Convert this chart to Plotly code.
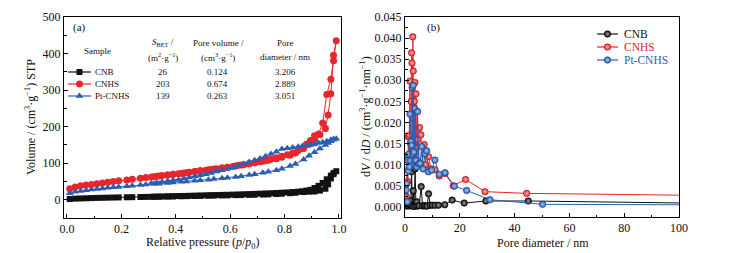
import plotly.graph_objects as go

# ---------------- data: (a) N2 isotherms ----------------
p_ads = [0.01, 0.03, 0.05, 0.07, 0.09, 0.11, 0.13, 0.15, 0.17, 0.19, 0.22, 0.24, 0.27, 0.29, 0.32,
         0.34, 0.37, 0.39, 0.42, 0.44, 0.47, 0.49, 0.52, 0.54, 0.57, 0.59, 0.62, 0.64, 0.67, 0.69,
         0.72, 0.74, 0.77, 0.79, 0.82, 0.84, 0.87, 0.89, 0.91, 0.93, 0.95, 0.96, 0.97, 0.98, 0.99]
p_des = [0.98, 0.97, 0.955, 0.94, 0.925, 0.91, 0.895, 0.88, 0.865, 0.85, 0.83, 0.81, 0.79, 0.77,
         0.75, 0.73, 0.71, 0.69, 0.67, 0.65, 0.63, 0.61, 0.59, 0.57, 0.55, 0.53, 0.51, 0.49, 0.47,
         0.45, 0.43, 0.41, 0.39, 0.37, 0.35, 0.33, 0.31]

cnb_ads = [2, 3, 3.5, 4, 4.5, 5, 5.3, 5.6, 6, 6.3, 6.7, 7, 7.4, 7.7, 8.1, 8.4, 8.8, 9.1, 9.5, 9.8,
           10.2, 10.5, 11, 11.3, 11.7, 12, 12.5, 12.8, 13.3, 13.6, 14.2, 14.6, 15.6, 16.5, 18, 19,
           21, 22, 22.5, 25, 30, 42, 58, 70, 78]
cnb_des = [73, 66, 56, 46, 38, 32, 27, 25, 23, 22, 21, 20, 19.2, 18.5, 17.8, 17.2, 16.6, 16, 15.5,
           15, 14.5, 14, 13.6, 13.2, 12.8, 12.4, 12, 11.6, 11.2, 10.8, 10.4, 10, 9.6, 9.2, 8.8, 8.4, 8]

cnhs_ads = [30, 35, 38, 40, 42, 44, 46, 48, 50, 52, 54, 56, 59, 61, 63, 65, 68, 70, 72, 74, 77, 79,
            82, 84, 87, 89, 92, 95, 98, 101, 105, 108, 112, 116, 122, 128, 140, 152, 165, 178, 195,
            232, 290, 395, 435]
cnhs_des = [380, 330, 288, 210, 180, 175, 162, 152, 140, 135, 128, 123, 119, 115, 111, 107, 104,
            101, 99, 96, 94, 91, 89, 87, 85, 83, 81, 79, 77, 75, 73, 71, 70, 68, 66, 64, 62]

pt_ads = [18, 22, 24, 26, 28, 29.5, 31, 32.5, 34, 35, 37, 38.5, 40, 41.5, 43, 44, 46, 47, 49, 50,
          52, 53, 55, 56.5, 58.5, 60, 62.5, 64.5, 67.5, 70, 73.5, 76.5, 81, 85, 92, 98, 110, 120,
          130, 140, 150, 155, 160, 164, 167]
pt_des = [166, 164, 160, 157, 155, 152, 150, 148, 146, 145, 143, 141, 139, 131, 125, 119, 113,
          108, 103, 98, 93, 89, 85, 81, 77, 73, 70, 67, 64, 61, 58, 55, 53, 51, 49, 47, 45]

# ---------------- data: (b) pore size distribution ----------------
d_cnb = [0.6, 1.0, 1.4, 1.8, 2.1, 2.4, 2.7, 3.0, 3.3, 3.7, 4.0, 4.3, 4.7, 5.2, 5.9, 6.4, 7.0, 7.6,
         8.1, 8.6, 9.2, 10.0, 11.0, 12.2, 14.5, 17.2, 21.6, 29.5, 45.0, 150]
v_cnb = [0.0002, 0.0005, 0.0002, 0.0015, 0.0003, 0.0083, 0.0002, 0.0038, 0.0001, 0.0090, 0.0002,
         0.0012, 0.0002, 0.0003, 0.0048, 0.0002, 0.0003, 0.0002, 0.0002, 0.0031, 0.0004, 0.0004,
         0.0004, 0.0004, 0.0005, 0.0016, 0.0009, 0.0014, 0.0014, 0.0005]

d_cnhs = [0.5, 0.8, 1.0, 1.2, 1.4, 1.6, 1.8, 2.0, 2.2, 2.4, 2.55, 2.7, 2.85, 3.0, 3.2, 3.4, 3.6,
          3.8, 4.0, 4.3, 4.6, 5.0, 5.3, 5.8, 6.3, 7.0, 7.6, 8.6, 9.5, 10.9, 12.5, 14.6, 17.6, 22.1,
          29.2, 44.4, 150]
v_cnhs = [0.0025, 0.0122, 0.0060, 0.0166, 0.0090, 0.0170, 0.0298, 0.0150, 0.0250, 0.0365, 0.0341,
          0.0210, 0.0403, 0.0322, 0.0160, 0.0250, 0.0295, 0.0140, 0.0268, 0.0110, 0.0160, 0.0100,
          0.0188, 0.0171, 0.0100, 0.0148, 0.0100, 0.0119, 0.0090, 0.0088, 0.0073, 0.0079, 0.0050,
          0.0065, 0.0036, 0.0032, 0.0024]

d_pt = [0.4, 0.6, 0.85, 1.0, 1.2, 1.4, 1.6, 1.8, 2.0, 2.2, 2.4, 2.6, 2.8, 3.0, 3.2, 3.4, 3.6, 3.8,
        4.0, 4.3, 4.6, 5.0, 5.5, 6.1, 6.6, 7.3, 7.9, 8.5, 9.7, 10.9, 12.5, 14.6, 18.0, 22.5, 31.0,
        50.2, 150]
v_pt = [0.0040, 0.0055, 0.0012, 0.0110, 0.0085, 0.0125, 0.0095, 0.0220, 0.0110, 0.0155, 0.0146,
        0.0283, 0.0125, 0.0288, 0.0130, 0.0110, 0.0233, 0.0095, 0.0110, 0.0095, 0.0226, 0.0102,
        0.0103, 0.0143, 0.0090, 0.0126, 0.0133, 0.0083, 0.0087, 0.0111, 0.0077, 0.0081, 0.0049,
        0.0039, 0.0017, 0.0006, 0.0004]

samples = ["CNB", "CNHS", "Pt-CNHS"]
s_bet = ["26", "203", "139"]
pore_vol = ["0.124", "0.674", "0.263"]
pore_dia = ["3.206", "2.889", "3.051"]

# ---------------- styles ----------------
W, H = 729, 253
ML, MR, MT, MB = 64, 50, 17, 35
FONT = "Liberation Serif"
BLACK, RED, BLUE = "#111111", "#e8262b", "#2b5fb4"
colors = [BLACK, RED, BLUE]
symbols_a = ["square", "circle", "triangle-up"]
sizes_a = [6, 7, 7]
grad = ["#9a9a9a", "#ffb4b4", "#a9c4f0"]
edge = ["#000000", "#b01010", "#1a3f80"]


def px(x):
    return (x - ML) / (W - ML - MR)


def py(y):
    return (H - MB - y) / (H - MT - MB)


fig = go.Figure()

iso = [(cnb_ads, cnb_des), (cnhs_ads, cnhs_des), (pt_ads, pt_des)]
for i, (ya, yd) in enumerate(iso):
    fig.add_trace(go.Scatter(
        x=p_ads + p_des, y=ya + yd, mode="lines+markers", name=samples[i], showlegend=False,
        line=dict(color=colors[i], width=1),
        marker=dict(symbol=symbols_a[i], size=sizes_a[i], color=colors[i], line=dict(width=0)),
        xaxis="x", yaxis="y"))

psd = [(d_cnb, v_cnb), (d_cnhs, v_cnhs), (d_pt, v_pt)]
for i, (xd, yv) in enumerate(psd):
    fig.add_trace(go.Scatter(
        x=xd, y=yv, mode="lines+markers", name=samples[i], showlegend=False,
        line=dict(color=colors[i], width=1),
        marker=dict(symbol="circle", size=6.5, color=colors[i],
                    gradient=dict(type="radial", color=grad[i]),
                    line=dict(color=edge[i], width=0.6)),
        xaxis="x2", yaxis="y2"))

# ---------------- legend keys (pixel layout on an overlay axis) ----------------
leg_a_rows = [72, 84, 96]
leg_b_rows = [34, 47, 60]
for i in range(3):
    fig.add_trace(go.Scatter(x=[68, 91], y=[leg_a_rows[i]] * 2, mode="lines",
                             line=dict(color=colors[i], width=1.2), showlegend=False,
                             hoverinfo="skip", xaxis="x3", yaxis="y3"))
    fig.add_trace(go.Scatter(x=[79.5], y=[leg_a_rows[i]], mode="markers", showlegend=False,
                             marker=dict(symbol=symbols_a[i], size=sizes_a[i], color=colors[i]),
                             hoverinfo="skip", xaxis="x3", yaxis="y3"))
    fig.add_trace(go.Scatter(x=[597, 618], y=[leg_b_rows[i]] * 2, mode="lines",
                             line=dict(color=colors[i], width=1.2), showlegend=False,
                             hoverinfo="skip", xaxis="x3", yaxis="y3"))
    fig.add_trace(go.Scatter(x=[607.5], y=[leg_b_rows[i]], mode="markers", showlegend=False,
                             marker=dict(symbol="circle", size=6.5, color=colors[i],
                                         gradient=dict(type="radial", color=grad[i]),
                                         line=dict(color=edge[i], width=0.6)),
                             hoverinfo="skip", xaxis="x3", yaxis="y3"))

ann = []


def text(x, y, s, size=9, color=BLACK, xanchor="center", angle=0):
    ann.append(dict(x=px(x), y=py(y), xref="paper", yref="paper", text=s, showarrow=False,
                    xanchor=xanchor, yanchor="middle", textangle=angle,
                    font=dict(family=FONT, size=size, color=color)))


text(79, 28, "(a)", size=11)
text(433, 28, "(b)", size=11)
text(97, 51, "Sample")
text(163, 43, "<i>S</i><sub>BET</sub> /")
text(163, 57, "(m<sup>2</sup>·g<sup>−1</sup>)")
text(218, 43, "Pore volume /")
text(218, 57, "(cm<sup>3</sup>·g<sup>−1</sup>)")
text(285, 43, "Pore")
text(285, 57, "diameter / nm")
for i in range(3):
    text(93, leg_a_rows[i], samples[i], xanchor="left")
    text(163, leg_a_rows[i], s_bet[i])
    text(217, leg_a_rows[i], pore_vol[i])
    text(285, leg_a_rows[i], pore_dia[i])
    text(622, leg_b_rows[i], samples[i], size=11.5, color=colors[i], xanchor="left")

# axis titles
text(203, 243, "Relative pressure (<i>p</i>/<i>p</i><sub>0</sub>)", size=12)
text(543, 243, "Pore diameter / nm", size=12)
text(31, 117, "Volume / (cm<sup>3</sup>·g<sup>−1</sup>) STP", size=12, angle=-90)
text(366, 117, "d<i>V</i> / d<i>D</i> / (cm<sup>3</sup>·g<sup>−1</sup>·nm<sup>−1</sup>)", size=12, angle=-90)

axis_common = dict(showline=True, linecolor="black", linewidth=1, mirror=True, ticks="inside",
                   ticklen=4, tickcolor="black", showgrid=False, zeroline=False,
                   tickfont=dict(family=FONT, size=12, color=BLACK), automargin=False)

dom_a = [0, px(341)]
dom_b = [px(405), 1]

fig.update_layout(
    width=W, height=H, margin=dict(l=ML, r=MR, t=MT, b=MB),
    paper_bgcolor="white", plot_bgcolor="rgba(0,0,0,0)",
    font=dict(family=FONT, color=BLACK),
    annotations=ann,
    xaxis=dict(axis_common, domain=dom_a, anchor="y", range=[-0.011, 1.0074], tick0=0, dtick=0.2,
               tickformat=".1f", minor=dict(dtick=0.1, ticks="inside", ticklen=2.5, tickcolor="black")),
    yaxis=dict(axis_common, domain=[0, 1], anchor="x", range=[-50, 500], tick0=0, dtick=100,
               minor=dict(dtick=50, ticks="inside", ticklen=2.5, tickcolor="black")),
    xaxis2=dict(axis_common, domain=dom_b, anchor="y2", range=[0, 100], tick0=0, dtick=20,
                minor=dict(dtick=10, ticks="inside", ticklen=2.5, tickcolor="black")),
    yaxis2=dict(axis_common, domain=[py(217), 1], anchor="x2", range=[-0.0024, 0.045], tick0=0,
                dtick=0.005, tickformat=".3f",
                minor=dict(dtick=0.0025, ticks="inside", ticklen=2.5, tickcolor="black")),
    xaxis3=dict(domain=[0, 1], anchor="y3", range=[ML, W - MR], visible=False, fixedrange=True),
    yaxis3=dict(domain=[0, 1], anchor="x3", range=[H - MB, MT], visible=False, fixedrange=True),
)

fig.write_html("out.html", config={"displayModeBar": False},
               post_script="document.body.style.margin='0';")
